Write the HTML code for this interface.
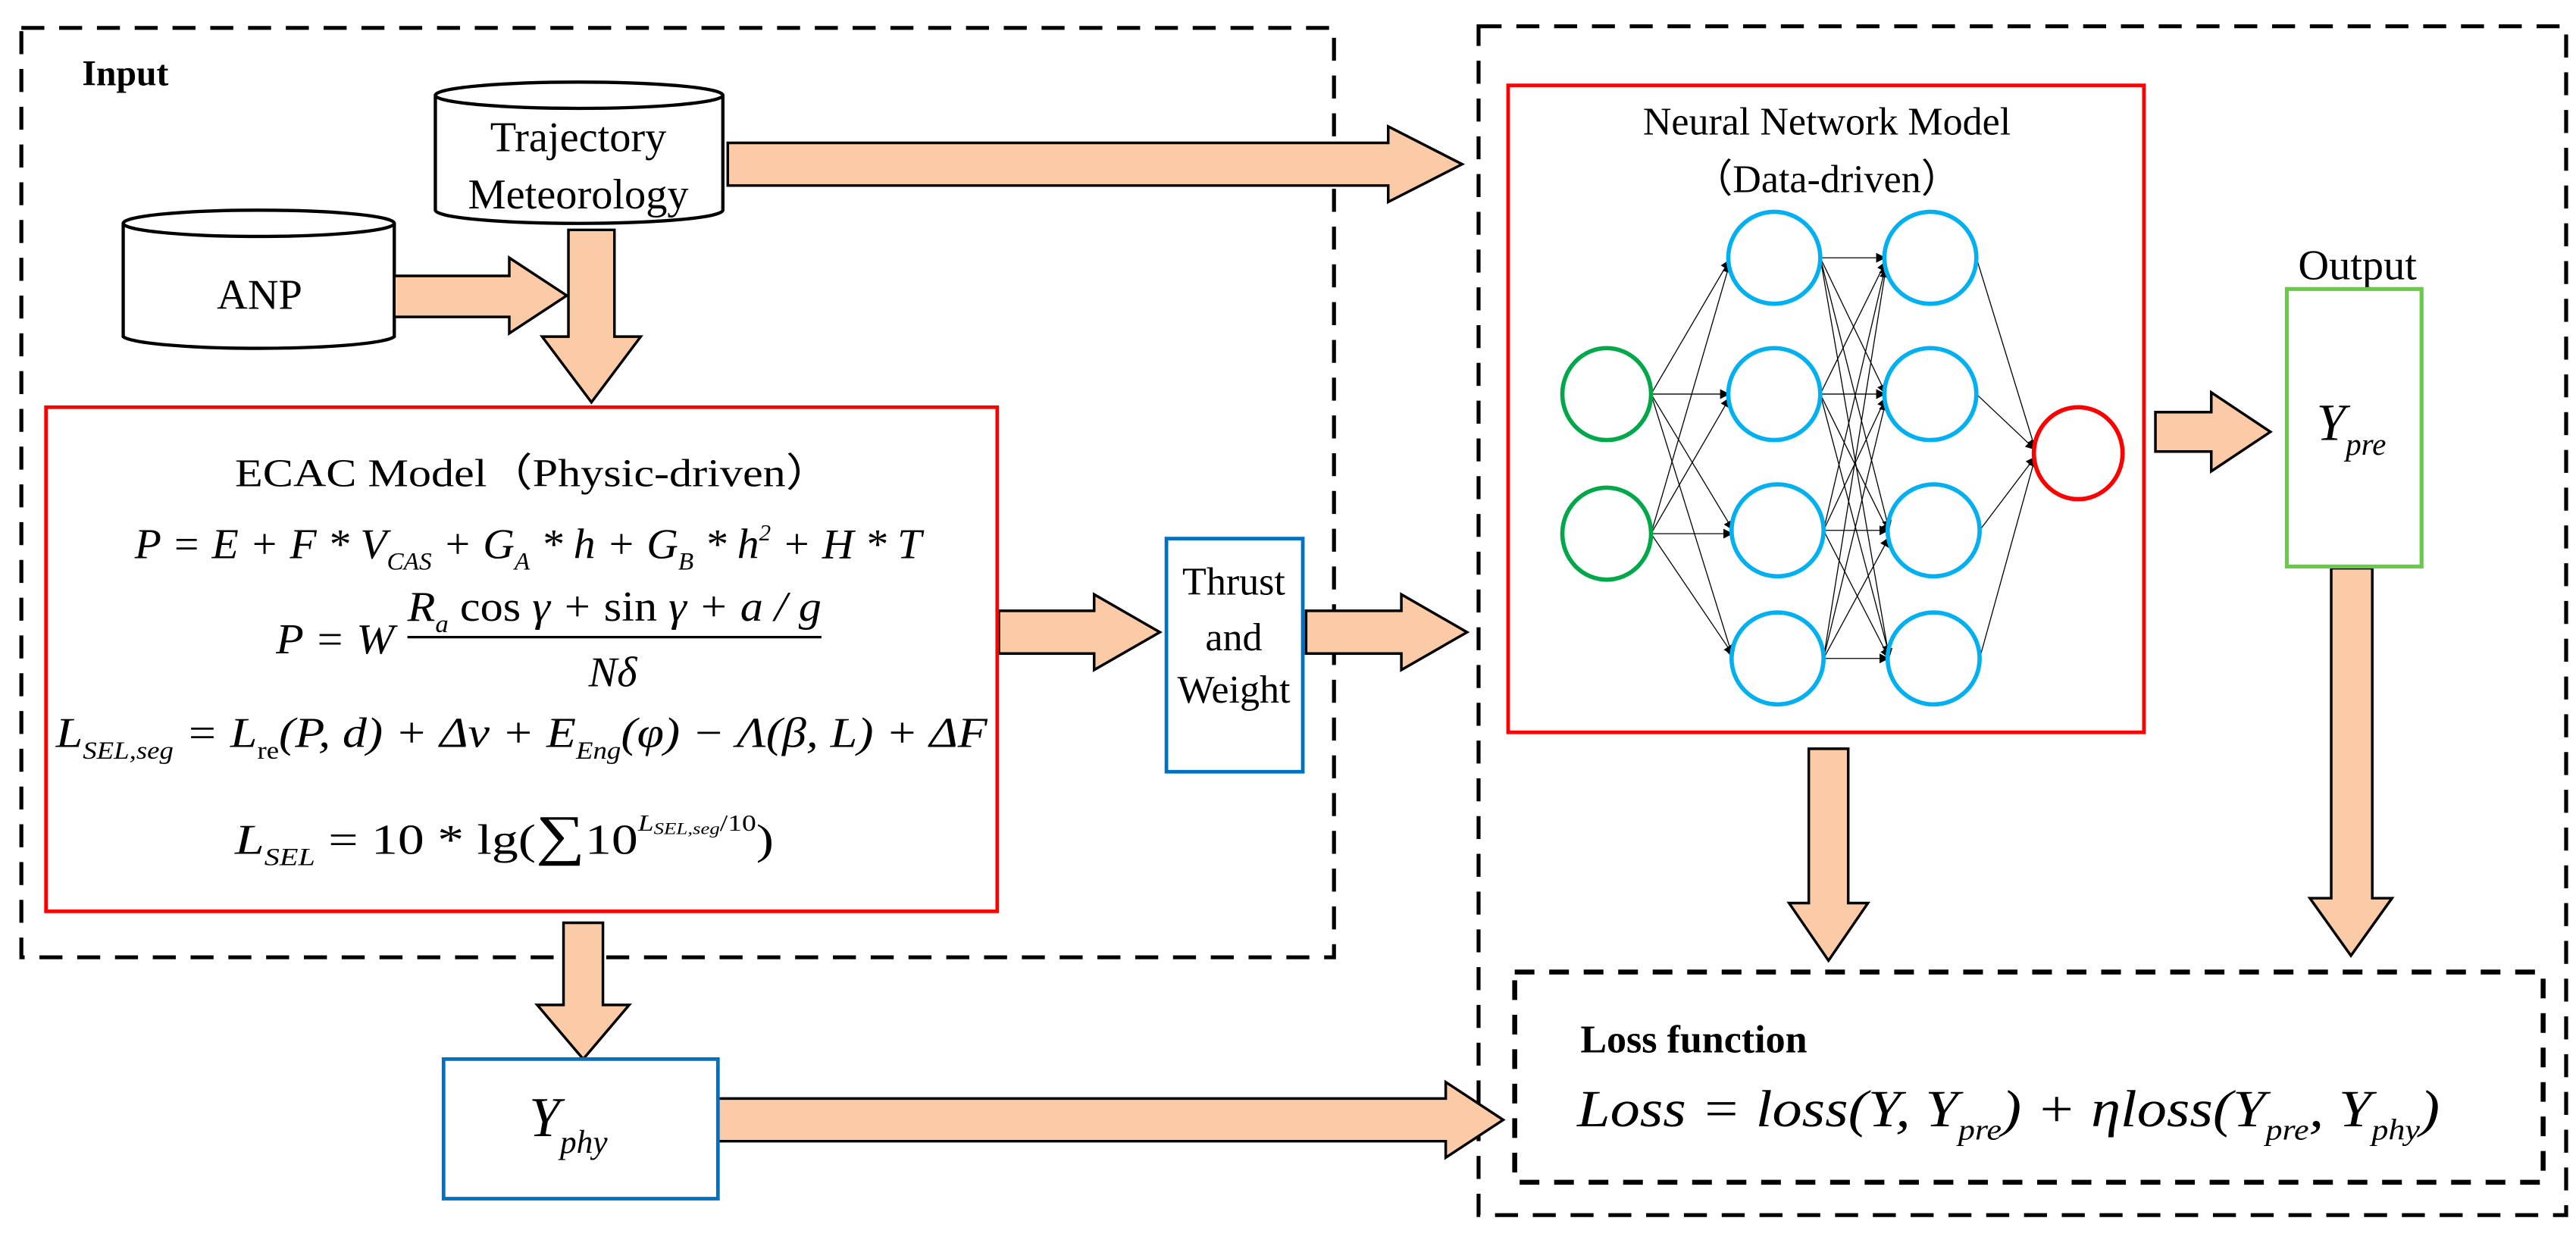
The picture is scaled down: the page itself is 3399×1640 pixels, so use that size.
<!DOCTYPE html>
<html><head><meta charset="utf-8"><style>html,body{margin:0;padding:0;background:#fff}svg{display:block}</style></head>
<body>
<svg width="3399" height="1640" viewBox="0 0 1568 757" preserveAspectRatio="none" xmlns="http://www.w3.org/2000/svg" font-family="Liberation Serif, serif">
<defs>
<marker id="ah" viewBox="0 0 10 10" refX="10" refY="5" markerWidth="6" markerHeight="6" orient="auto" markerUnits="userSpaceOnUse"><path d="M0,0 L10,5 L0,10 Z" fill="#000"/></marker>
</defs>
<rect width="1568" height="757" fill="#fff"/>
<rect x="13" y="17" width="799" height="566" fill="none" stroke="#000" stroke-width="2.4" stroke-dasharray="14,9"/>
<rect x="900" y="16" width="662" height="724" fill="none" stroke="#000" stroke-width="2.4" stroke-dasharray="14,9"/>
<rect x="922" y="592" width="626" height="128" fill="none" stroke="#000" stroke-width="3" stroke-dasharray="12,9"/>

<text x="50" y="52" font-size="22" font-weight="bold">Input</text>

<path d="M265,58 L265,128 A87,8 0 0 0 440,128 L440,58" fill="#fff" stroke="#000" stroke-width="2"/>
<ellipse cx="352.5" cy="58" rx="87.5" ry="8" fill="#fff" stroke="#000" stroke-width="2"/>
<text x="352" y="92" font-size="26" text-anchor="middle">Trajectory</text>
<text x="352" y="127" font-size="26" text-anchor="middle">Meteorology</text>

<path d="M75,136 L75,205 A83,8 0 0 0 240,205 L240,136" fill="#fff" stroke="#000" stroke-width="2"/>
<ellipse cx="157.5" cy="136" rx="82.5" ry="8" fill="#fff" stroke="#000" stroke-width="2"/>
<text x="158" y="188" font-size="26" text-anchor="middle">ANP</text>

<g fill="#FBCBA7" stroke="#000" stroke-width="1.6">
<path d="M443,87 L845,87 L845,77 L890,100 L845,123 L845,113 L443,113 Z"/>
<path d="M240,168 L310,168 L310,157 L345,180 L310,203 L310,193 L240,193 Z"/>
<path d="M346,140 L374,140 L374,205 L390,205 L360,245 L330,205 L346,205 Z"/>
<path d="M608,372 L666,372 L666,362 L706,385 L666,408 L666,398 L608,398 Z"/>
<path d="M795,372 L853,372 L853,362 L893,385 L853,408 L853,398 L795,398 Z"/>
<path d="M1312,251 L1346,251 L1346,239 L1382,263 L1346,287 L1346,275 L1312,275 Z"/>
<path d="M1101,456 L1125,456 L1125,550 L1137,550 L1113,585 L1089,550 L1101,550 Z"/>
<path d="M1419,346 L1444,346 L1444,547 L1456,547 L1431,582 L1406,547 L1419,547 Z"/>
<path d="M343,562 L367,562 L367,612 L383,612 L355,645 L327,612 L343,612 Z"/>
<path d="M437,669 L880,669 L880,659 L915,682 L880,705 L880,695 L437,695 Z"/>
</g>

<rect x="28" y="248" width="579" height="307" fill="#fff" stroke="#ff0000" stroke-width="2.2"/>
<text x="143" y="296" font-size="24" textLength="363" lengthAdjust="spacingAndGlyphs">ECAC Model（Physic-driven）</text>
<g font-style="italic" font-size="26">
<text x="82" y="340" textLength="479" lengthAdjust="spacingAndGlyphs">P = E + F * V<tspan font-size="15" dy="7">CAS</tspan><tspan dy="-7"> + G</tspan><tspan font-size="15" dy="7">A</tspan><tspan dy="-7"> * h + G</tspan><tspan font-size="15" dy="7">B</tspan><tspan dy="-7"> * h</tspan><tspan font-size="14" dy="-11">2</tspan><tspan dy="11"> + H * T</tspan></text>
<text x="168" y="398" textLength="72" lengthAdjust="spacingAndGlyphs">P = W</text>
<text x="248" y="378" textLength="252" lengthAdjust="spacingAndGlyphs">R<tspan font-size="15" dy="7">a</tspan><tspan dy="-7" font-style="normal"> cos</tspan> γ + <tspan font-style="normal">sin</tspan> γ + a / g</text>
<text x="373" y="418" text-anchor="middle">Nδ</text>
<text x="34" y="455" textLength="567" lengthAdjust="spacingAndGlyphs">L<tspan font-size="15" dy="7">SEL,seg</tspan><tspan dy="-7"> = L</tspan><tspan font-size="15" dy="7" font-style="normal">re</tspan><tspan dy="-7">(P, d) + Δv + E</tspan><tspan font-size="15" dy="7">Eng</tspan><tspan dy="-7">(φ) − Λ(β, L) + ΔF</tspan></text>
<text x="143" y="520" textLength="328" lengthAdjust="spacingAndGlyphs">L<tspan font-size="15" dy="7">SEL</tspan><tspan dy="-7" font-style="normal"> = 10 * lg(</tspan><tspan font-style="normal" font-size="34">∑</tspan><tspan font-style="normal">10</tspan><tspan font-size="14" dy="-14">L</tspan><tspan font-size="10" dy="2">SEL,seg</tspan><tspan font-size="14" dy="-2" font-style="normal">/10</tspan><tspan dy="14" font-style="normal">)</tspan></text>
</g>
<line x1="248" y1="388" x2="500" y2="388" stroke="#000" stroke-width="1.5"/>

<rect x="710" y="328" width="83" height="142" fill="#fff" stroke="#0070C0" stroke-width="2.2"/>
<text x="751" y="362" font-size="24" text-anchor="middle">Thrust</text>
<text x="751" y="396" font-size="24" text-anchor="middle">and</text>
<text x="751" y="428" font-size="24" text-anchor="middle">Weight</text>

<rect x="918" y="52" width="387" height="394" fill="#fff" stroke="#ff0000" stroke-width="2.2"/>
<text x="1112" y="82" font-size="24" text-anchor="middle">Neural Network Model</text>
<text x="1112" y="117" font-size="24" text-anchor="middle">（Data-driven）</text>
<g stroke="#000" stroke-width="0.6" marker-end="url(#ah)">
<line x1="1005" y1="240" x2="1053" y2="158"/><line x1="1005" y1="240" x2="1053" y2="240"/><line x1="1005" y1="240" x2="1055" y2="323"/><line x1="1005" y1="240" x2="1055" y2="401"/>
<line x1="1005" y1="325" x2="1053" y2="160"/><line x1="1005" y1="325" x2="1053" y2="242"/><line x1="1005" y1="325" x2="1055" y2="325"/><line x1="1005" y1="325" x2="1055" y2="399"/>
<line x1="1108" y1="157" x2="1148" y2="157"/><line x1="1108" y1="157" x2="1148" y2="240"/><line x1="1108" y1="157" x2="1150" y2="323"/><line x1="1108" y1="157" x2="1150" y2="401"/>
<line x1="1108" y1="240" x2="1148" y2="159"/><line x1="1108" y1="240" x2="1148" y2="240"/><line x1="1108" y1="240" x2="1150" y2="325"/><line x1="1108" y1="240" x2="1150" y2="399"/>
<line x1="1110" y1="323" x2="1148" y2="161"/><line x1="1110" y1="323" x2="1148" y2="242"/><line x1="1110" y1="323" x2="1150" y2="323"/><line x1="1110" y1="323" x2="1150" y2="401"/>
<line x1="1110" y1="401" x2="1148" y2="163"/><line x1="1110" y1="401" x2="1148" y2="244"/><line x1="1110" y1="401" x2="1150" y2="327"/><line x1="1110" y1="401" x2="1150" y2="401"/>
<line x1="1203" y1="157" x2="1239" y2="274"/><line x1="1203" y1="240" x2="1239" y2="274"/><line x1="1205" y1="323" x2="1239" y2="278"/><line x1="1205" y1="401" x2="1239" y2="278"/>
</g>
<g fill="none" stroke-width="2.6">
<ellipse cx="978" cy="240" rx="27" ry="28" stroke="#00A84A"/>
<ellipse cx="978" cy="325" rx="27" ry="28" stroke="#00A84A"/>
<g stroke="#00B0F0">
<ellipse cx="1080" cy="157" rx="28" ry="28"/><ellipse cx="1080" cy="240" rx="28" ry="28"/><ellipse cx="1082" cy="323" rx="28" ry="28"/><ellipse cx="1082" cy="401" rx="28" ry="28"/>
<ellipse cx="1175" cy="157" rx="28" ry="28"/><ellipse cx="1175" cy="240" rx="28" ry="28"/><ellipse cx="1177" cy="323" rx="28" ry="28"/><ellipse cx="1177" cy="401" rx="28" ry="28"/>
</g>
<ellipse cx="1265" cy="276" rx="27" ry="28" stroke="#ff0000"/>
</g>

<text x="1435" y="170" font-size="26" text-anchor="middle">Output</text>
<rect x="1392" y="176" width="82" height="169" fill="#fff" stroke="#66CC44" stroke-width="2.4"/>
<text x="1410" y="268" font-size="32" font-style="italic">Y<tspan font-size="19" dy="9">pre</tspan></text>

<rect x="270" y="645" width="167" height="85" fill="#fff" stroke="#0070C0" stroke-width="2.2"/>
<text x="322" y="692" font-size="34" font-style="italic">Y<tspan font-size="20" dy="10">phy</tspan></text>

<text x="962" y="641" font-size="24" font-weight="bold">Loss function</text>
<text x="960" y="686" font-size="32" font-style="italic" textLength="525" lengthAdjust="spacingAndGlyphs">Loss = loss(Y, Y<tspan font-size="18" dy="8">pre</tspan><tspan dy="-8">) + ηloss(Y</tspan><tspan font-size="18" dy="8">pre</tspan><tspan dy="-8">, Y</tspan><tspan font-size="18" dy="8">phy</tspan><tspan dy="-8">)</tspan></text>
</svg>
</body></html>
